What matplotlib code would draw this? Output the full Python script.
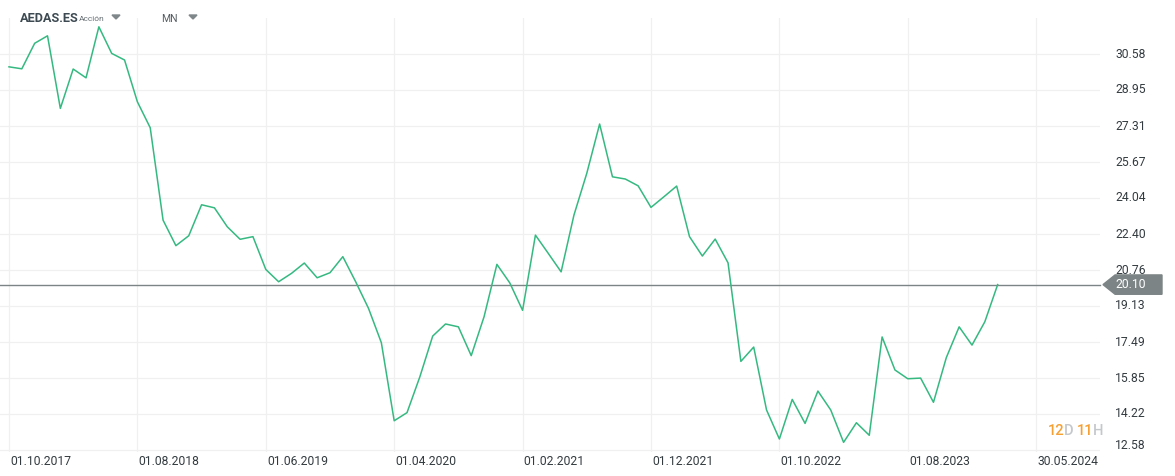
import matplotlib.pyplot as plt
from matplotlib.patches import Polygon

# monthly closes, 01.10.2017 onwards
prices = [30.00, 29.91, 31.07, 31.41, 28.11, 29.90, 29.50, 31.82, 30.61, 30.31,
          28.41, 27.23, 23.03, 21.87, 22.32, 23.73, 23.59, 22.73, 22.16, 22.28,
          20.79, 20.23, 20.61, 21.08, 20.41, 20.64, 21.37, 20.23, 19.02, 17.46,
          13.91, 14.28, 15.91, 17.76, 18.31, 18.18, 16.87, 18.64, 21.02, 20.18,
          18.93, 22.35, 21.52, 20.68, 23.26, 25.16, 27.40, 25.00, 24.90, 24.59,
          23.61, 24.09, 24.58, 22.28, 21.40, 22.17, 21.09, 16.61, 17.26, 14.40,
          13.08, 14.88, 13.79, 15.26, 14.40, 12.93, 13.82, 13.25, 17.72, 16.22,
          15.82, 15.85, 14.75, 16.78, 18.18, 17.35, 18.41, 20.10]
last_price = 20.10

date_ticks = [0, 10, 20, 30, 40, 50, 60, 70, 80]
date_labels = ['01.10.2017', '01.08.2018', '01.06.2019', '01.04.2020', '01.02.2021',
               '01.12.2021', '01.10.2022', '01.08.2023', '30.05.2024']
price_ticks = [12.58, 14.22, 15.85, 17.49, 19.13, 20.76, 22.40, 24.04, 25.67, 27.31, 28.95, 30.58]

plt.rcParams['font.family'] = ['Roboto', 'DejaVu Sans']

W, H = 1175, 476
fig = plt.figure(figsize=(W / 100, H / 100), dpi=100)
ax = fig.add_axes([0, 1 - 452 / H, 1100 / W, (452 - 18) / H])

x = list(range(len(prices)))
ax.plot(x, prices, color='#35b981', lw=1.1, zorder=3)
ax.axhline(last_price, color='#7d8485', lw=1.0, zorder=2, clip_on=False)

ax.set_xlim(-0.70, 84.97)
ax.set_ylim(12.49, 32.22)

ax.set_xticks(date_ticks)
ax.set_yticks(price_ticks)
ax.grid(True, color='#f0f0f0', lw=0.9)
ax.set_axisbelow(True)
for s in ax.spines.values():
    s.set_visible(False)
ax.tick_params(length=0)
ax.set_xticklabels([])
ax.set_yticklabels([])

txt = '#333b40'
for t, lab in zip(date_ticks, date_labels):
    ax.text(t + 0.1, -0.007, lab, transform=ax.get_xaxis_transform(),
            ha='left', va='top', fontsize=8.7, color=txt)
for p in price_ticks:
    yy = p if p > 13 else p + 0.2
    ax.text(1115 / 1100, yy, f'{p:.2f}', transform=ax.get_yaxis_transform(),
            ha='left', va='center', fontsize=8.7, color=txt, clip_on=False)

# current price tag
tx = ax.get_yaxis_transform()
x0, x1 = 1103 / 1100, 1162 / 1100
h = 0.44
tag = Polygon([(x0, last_price), (x0 + 0.011, last_price + h), (x1, last_price + h),
               (x1, last_price - h), (x0 + 0.011, last_price - h)],
              closed=True, transform=tx, color='#7d8485', clip_on=False, zorder=5)
ax.add_patch(tag)
ax.text(1115 / 1100, last_price, f'{last_price:.2f}', transform=tx, ha='left', va='center',
        fontsize=8.7, color='white', zorder=6, clip_on=False)

# header
fig.text(20 / W, 1 - 19 / H, 'AEDAS.ES', fontsize=9.2, fontweight='bold', color='#3d4a52', va='center')
fig.text(79 / W, 1 - 19 / H, 'Acción', fontsize=6, color='#666e73', va='center')
fig.text(161 / W, 1 - 19 / H, 'MN', fontsize=7.5, color='#555d62', va='center')
for cx in (116, 193):
    fig.patches.append(Polygon([((cx - 4) / W, 1 - 15 / H), ((cx + 4) / W, 1 - 15 / H),
                                (cx / W, 1 - 19 / H)], closed=True, transform=fig.transFigure,
                               color='#80878b'))

# countdown
cy = 1 - 431 / H
parts = [('12', '#f7a032', 1048), ('D', '#c4c8cb', 1064), ('11', '#f7a032', 1077), ('H', '#c4c8cb', 1093)]
for s, c, px in parts:
    fig.text(px / W, cy, s, fontsize=10.5, color=c, va='center', ha='left', fontweight='medium')

fig.savefig('out.png', dpi=100)
